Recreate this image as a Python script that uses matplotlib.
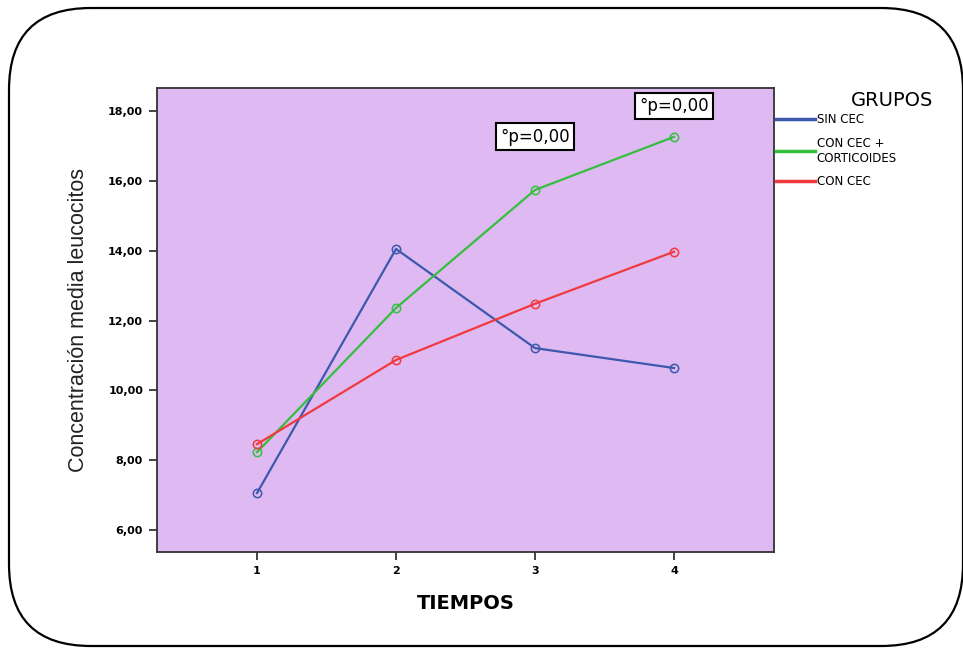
import matplotlib
matplotlib.use("Agg")
import matplotlib.pyplot as plt
from matplotlib.patches import FancyBboxPatch
from matplotlib.lines import Line2D

tiempos = [1, 2, 3, 4]
sin_cec = [7.06, 14.05, 11.21, 10.64]
con_cec_cort = [8.23, 12.36, 15.74, 17.26]
con_cec = [8.46, 10.87, 12.48, 13.97]
yticks = [6, 8, 10, 12, 14, 16, 18]
ytick_labels = ["6,00", "8,00", "10,00", "12,00", "14,00", "16,00", "18,00"]
group_names = ["SIN CEC", "CON CEC +\nCORTICOIDES", "CON CEC"]

plt.rcParams["font.family"] = ["Liberation Sans", "DejaVu Sans"]

W, H = 963, 648
fig = plt.figure(figsize=(W / 100, H / 100), dpi=100)
fig.patch.set_facecolor("white")

# rounded frame around the whole figure
frame = FancyBboxPatch((9 / W, (H - 646) / H), (963 - 9) / W, (646 - 8) / H,
                       boxstyle="round,pad=0,rounding_size=0.085",
                       transform=fig.transFigure, facecolor="none",
                       edgecolor="black", linewidth=1.6, mutation_aspect=W / H)
fig.patches.append(frame)

ax_l, ax_r, ax_t, ax_b = 157, 774, 88, 552
ax = fig.add_axes([ax_l / W, (H - ax_b) / H, (ax_r - ax_l) / W, (ax_b - ax_t) / H])
ax.set_facecolor("#dfb9f1")

colors = ["#3d59ad", "#34bf3e", "#f03a3e"]
for vals, c in zip([sin_cec, con_cec_cort, con_cec], colors):
    ax.plot(tiempos, vals, color=c, linewidth=1.6, marker="o", markersize=6,
            markerfacecolor="none", markeredgecolor=c, markeredgewidth=1.1)

ax.set_xlim(0.28, 4.72)
ax.set_ylim(5.37, 18.66)
ax.set_xticks(tiempos)
ax.set_xticklabels([str(t) for t in tiempos], fontsize=8, fontweight="bold",
                   family="DejaVu Sans")
ax.set_yticks(yticks)
ax.set_yticklabels(ytick_labels, fontsize=8, fontweight="bold", family="DejaVu Sans")
ax.tick_params(length=6, width=1.2, color="#222222", pad=4)
for s in ax.spines.values():
    s.set_linewidth(1.3)
    s.set_color("#333333")

ax.set_xlabel("TIEMPOS", fontsize=14, fontweight="bold", labelpad=13,
              family="DejaVu Sans")
ax.set_ylabel("Concentración media leucocitos", fontsize=15.5, labelpad=14,
              color="#222222")

# significance boxes
box = dict(boxstyle="square,pad=0.25", facecolor="white", edgecolor="black", linewidth=1.5)
ax.text(3, 17.27, "°p=0,00", fontsize=12, ha="center", va="center", bbox=box,
        family="DejaVu Sans")
ax.text(4, 18.15, "°p=0,00", fontsize=12, ha="center", va="center", bbox=box,
        family="DejaVu Sans")

# legend
fig.text(933 / W, (H - 100) / H, "GRUPOS", fontsize=14, ha="right", va="center",
         family="DejaVu Sans")
handles = [Line2D([], [], color=c, linewidth=2.5) for c in colors]
fig.legend(handles, group_names, loc="upper left",
           bbox_to_anchor=(776 / W, (H - 113) / H), frameon=False,
           handlelength=3.3, handletextpad=0.15, labelspacing=0.9,
           borderpad=0.0, borderaxespad=0.0,
           prop={"family": "DejaVu Sans", "size": 8.5})

fig.savefig("out.png", dpi=100, facecolor="white")
